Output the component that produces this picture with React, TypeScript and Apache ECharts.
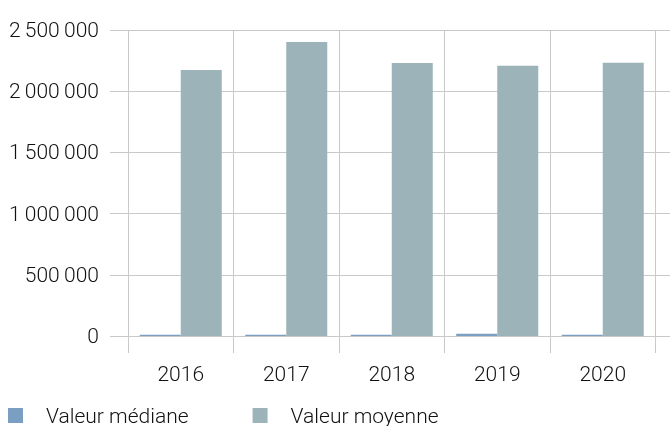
import React, { useEffect, useRef } from "react";
import * as echarts from "echarts";

const years = ["2016", "2017", "2018", "2019", "2020"];
const medianValues = [11000, 11000, 11000, 18000, 11000];
const meanValues = [2173000, 2402000, 2230000, 2208000, 2233000];
const seriesNames = ["Valeur médiane", "Valeur moyenne"];

const GRID = "#c9c9c9";
const FONT = "Roboto";

const fmt = (v: number) => {
  const s = Math.round(v).toString();
  return s.replace(/\B(?=(\d{3})+(?!\d))/g, "\u2009");
};

export default function App() {
  const ref = useRef<HTMLDivElement>(null);
  useEffect(() => {
    if (!ref.current) return;
    const chart = echarts.init(ref.current, undefined, { renderer: "svg" });
    const labelStyle = { color: "#111", fontFamily: FONT, fontWeight: 300 as any, fontSize: 21 };
    chart.setOption({
      animation: false,
      textStyle: { fontFamily: FONT },
      grid: { left: 128, right: 14.5, top: 30, bottom: 90, containLabel: false },
      legend: {
        data: seriesNames,
        left: 8,
        top: 405,
        padding: 0,
        itemWidth: 15,
        itemHeight: 15,
        itemGap: 64,
        icon: "rect",
        textStyle: { ...labelStyle, fontSize: 21, lineHeight: 20, padding: [0, 0, 0, 18] },
      },
      xAxis: [
        {
          type: "category",
          data: years,
          position: "bottom",
          axisLine: { show: true, lineStyle: { color: GRID, width: 1 } },
          axisTick: { show: true, length: 17, lineStyle: { color: GRID, width: 1 } },
          axisLabel: { ...labelStyle, margin: 27 },
          splitLine: { show: true, lineStyle: { color: GRID, width: 1 } },
        },
        {
          type: "category",
          data: years,
          position: "top",
          axisLine: { show: false },
          axisTick: { show: true, length: 18, lineStyle: { color: GRID, width: 1 } },
          axisLabel: { show: false },
          splitLine: { show: false },
        },
      ],
      yAxis: [
        {
          type: "value",
          min: 0,
          max: 2500000,
          interval: 500000,
          position: "left",
          axisLine: { show: false },
          axisTick: { show: true, length: 18, lineStyle: { color: GRID, width: 1 } },
          axisLabel: { ...labelStyle, margin: 29, formatter: (v: number) => fmt(v) },
          splitLine: { show: true, lineStyle: { color: GRID, width: 1 } },
        },
        {
          type: "value",
          min: 0,
          max: 2500000,
          interval: 500000,
          position: "right",
          axisLine: { show: false },
          axisTick: { show: true, length: 16, lineStyle: { color: GRID, width: 1 } },
          axisLabel: { show: false },
          splitLine: { show: false },
        },
      ],
      series: [
        {
          name: seriesNames[0],
          type: "bar",
          data: medianValues,
          barWidth: 41,
          barGap: "0%",
          itemStyle: { color: "#7b9ec3" },
        },
        {
          name: seriesNames[1],
          type: "bar",
          data: meanValues,
          barWidth: 41,
          barGap: "0%",
          itemStyle: { color: "#9db3ba" },
        },
      ],
    });
    return () => chart.dispose();
  }, []);
  return (
    <div
      ref={ref}
      style={{ position: "fixed", left: 0, top: 0, width: 670, height: 426 }}
    />
  );
}
